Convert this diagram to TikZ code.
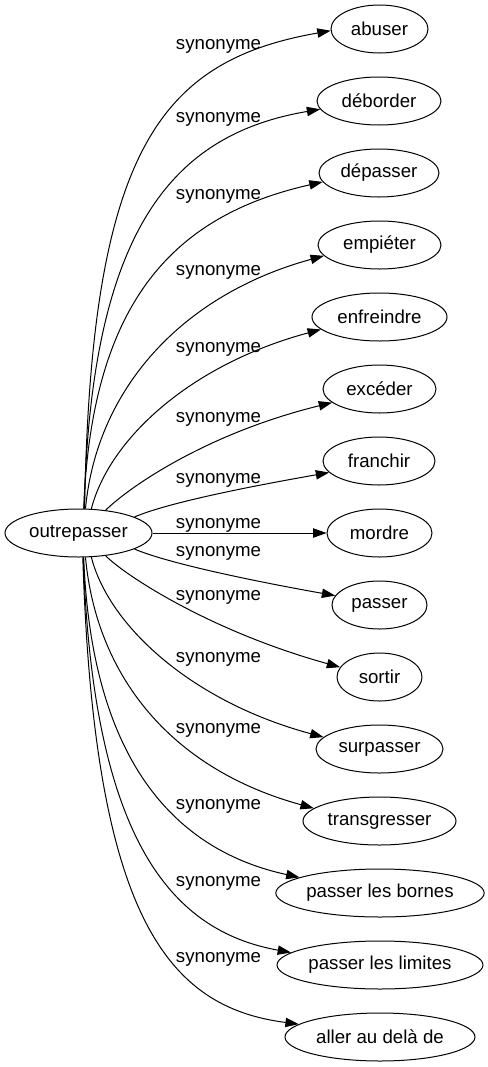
\documentclass[tikz,border=0pt]{standalone}
\usepackage{fontspec}
\setmainfont{Liberation Sans}
\usetikzlibrary{arrows.meta,positioning,calc,shapes}

\tikzset{
  word/.style={ellipse, draw, line width=0.75pt, inner sep=0pt, minimum height=36pt, minimum width=#1},
  syn/.style={inner sep=0pt},
  link/.style={line width=0.75pt, -{Triangle[length=10pt,width=7pt]}},
}

\begin{document}
\begin{tikzpicture}[x=0.75pt,y=0.75pt,font=\fontsize{14pt}{16pt}\selectfont]
		\useasboundingbox (0,0) rectangle (487,-1067);
		% source word
		\node[word=110.25pt] (outre) at (78.5,-533) {outrepasser};
		% synonyms
		\node[word=72.75pt] (abuser) at (379.5,-29) {abuser};
		\node[word=93pt] (deborder) at (379,-101) {déborder};
		\node[word=90pt] (depasser) at (379,-173) {dépasser};
		\node[word=92.25pt] (empieter) at (379.5,-245) {empiéter};
		\node[word=101.25pt] (enfreindre) at (379.5,-317) {enfreindre};
		\node[word=84.75pt] (exceder) at (379.5,-389) {excéder};
		\node[word=84pt] (franchir) at (379,-461) {franchir};
		\node[word=78.75pt] (mordre) at (379.5,-533) {mordre};
		\node[word=71.25pt] (passer) at (379.5,-605) {passer};
		\node[word=63.75pt] (sortir) at (379.5,-677) {sortir};
		\node[word=95.25pt] (surpasser) at (379.5,-749) {surpasser};
		\node[word=114.75pt] (transgresser) at (379.5,-821) {transgresser};
		\node[word=154.5pt] (bornes) at (380,-893) {passer les bornes};
		\node[word=154.5pt] (limites) at (380,-965) {passer les limites};
		\node[word=142.5pt] (aller) at (380,-1037) {aller au delà de};
		% edge labels
		\node[syn] (l1) at (218.5,-46) {synonyme};
		\node[syn] (l2) at (218.5,-119) {synonyme};
		\node[syn] (l3) at (218.5,-196) {synonyme};
		\node[syn] (l4) at (218.5,-272) {synonyme};
		\node[syn] (l5) at (218.5,-349) {synonyme};
		\node[syn] (l6) at (218.5,-419) {synonyme};
		\node[syn] (l7) at (218.5,-480) {synonyme};
		\node[syn] (l8) at (218.5,-525) {synonyme};
		\node[syn] (l9) at (218.5,-553) {synonyme};
		\node[syn] (l10) at (218.5,-597) {synonyme};
		\node[syn] (l11) at (218.5,-659) {synonyme};
		\node[syn] (l12) at (218.5,-730) {synonyme};
		\node[syn] (l13) at (218.5,-806) {synonyme};
		\node[syn] (l14) at (218.5,-883) {synonyme};
		\node[syn] (l15) at (218.5,-959) {synonyme};
		% edges
		\draw[link] (outre.76) .. controls +(89:359) and +(190:173) .. (abuser.182);
		\draw[link] (outre.77) .. controls +(88.6:279) and +(189.6:150) .. (deborder.188);
		\draw[link] (outre.78) .. controls +(87.8:209) and +(192.7:151) .. (depasser.189);
		\draw[link] (outre.74) .. controls +(84.7:119.5) and +(195.3:148) .. (empieter.191);
		\draw[link] (outre.62) .. controls +(75.6:72) and +(195:135) .. (enfreindre.192);
		\draw[link] (outre.40) .. controls +(45:28) and +(193.8:134) .. (exceder.196);
		\draw[link] (outre.16) .. controls +(23:40) and +(190:68) .. (franchir.193);
		\draw[link] (outre) -- (mordre);
		\draw[link] (outre.-16) .. controls +(-23:40) and +(170:68) .. (passer.168);
		\draw[link] (outre.-40) .. controls +(-45:28) and +(164.5:135) .. (sortir.166);
		\draw[link] (outre.-62) .. controls +(-75.6:72) and +(165:135) .. (surpasser.168);
		\draw[link] (outre.-74) .. controls +(-84.7:119.5) and +(164.7:148) .. (transgresser.169);
		\draw[link] (outre.-78) .. controls +(-87.8:209) and +(167.8:123) .. (bornes.169);
		\draw[link] (outre.-79) .. controls +(-88:279) and +(169.8:124) .. (limites.172);
		\draw[link] (outre.-80) .. controls +(-88.2:359) and +(172.7:133) .. (aller.171);
\end{tikzpicture}
\end{document}
